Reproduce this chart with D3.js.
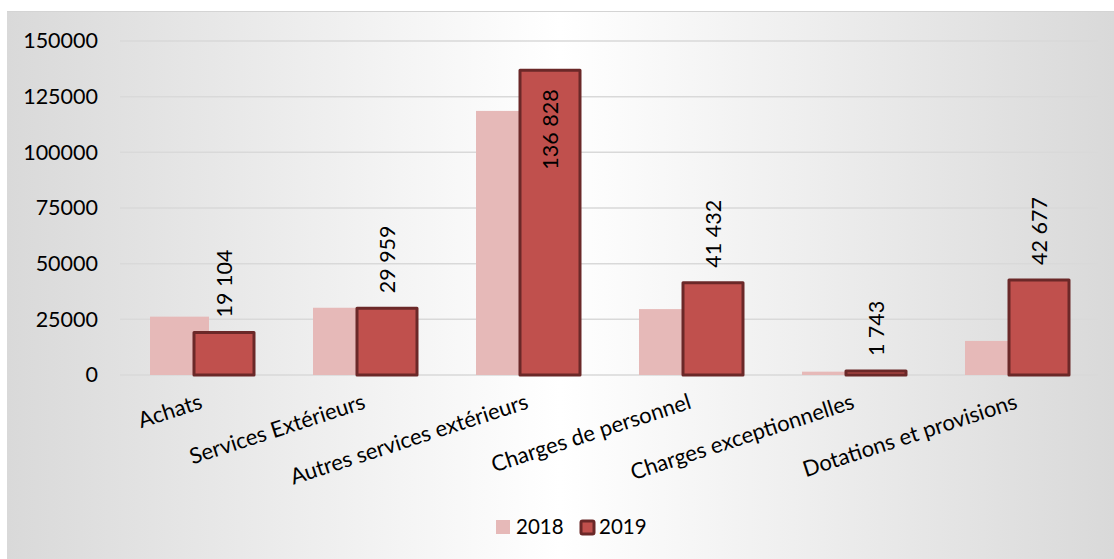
<!DOCTYPE html>
<html>
<head>
<meta charset="utf-8">
<script src="https://cdn.jsdelivr.net/npm/d3@7"></script>
<style>
  html, body { margin: 0; padding: 0; background: #ffffff; }
  svg { display: block; font-family: Lato, "Open Sans", sans-serif; }
</style>
</head>
<body>
<svg id="chart" width="1114" height="559"></svg>
<script>
const categories = ["Achats", "Services Extérieurs", "Autres services extérieurs", "Charges de personnel", "Charges exceptionnelles", "Dotations et provisions"];
const series = ["2018", "2019"];
const values2018 = [26200, 30200, 118600, 29600, 1500, 15300];
const values2019 = [19104, 29959, 136828, 41432, 1743, 42677];
const yTicks = [0, 25000, 50000, 75000, 100000, 125000, 150000];

const svg = d3.select("#chart");
const W = 1114, H = 559;

// background
const defs = svg.append("defs");
const grad = defs.append("linearGradient").attr("id", "bg").attr("x1", "0").attr("x2", "1").attr("y1", "0").attr("y2", "0");
grad.append("stop").attr("offset", "0%").attr("stop-color", "#d9d9d9");
grad.append("stop").attr("offset", "50%").attr("stop-color", "#ffffff");
grad.append("stop").attr("offset", "100%").attr("stop-color", "#d9d9d9");
svg.append("rect").attr("x", 7).attr("y", 11).attr("width", W - 7).attr("height", H - 11)
  .attr("fill", "url(#bg)");
svg.append("line").attr("x1", 7).attr("x2", W).attr("y1", 11.5).attr("y2", 11.5)
  .attr("stroke", "#d4d4d4").attr("stroke-width", 1);

const x = d3.scaleBand().domain(categories).range([120, 1098]);
const y = d3.scaleLinear().domain([0, 150000]).range([375, 41]);
const offset = d3.scaleOrdinal().domain(series).range([-51.5, -7.5]);
const barW = { "2018": 59, "2019": 60 };
const fills = { "2018": "#e6b9b8", "2019": "#c0504d" };
const dark = "#6b2828";

// gridlines
svg.append("g").selectAll("line").data(yTicks).join("line")
  .attr("x1", 120).attr("x2", 1098)
  .attr("y1", d => y(d)).attr("y2", d => y(d))
  .attr("stroke", "#d9d9d9").attr("stroke-width", 1.5);

// y axis labels
const yAxis = d3.axisLeft(y).tickValues(yTicks).tickSize(0).tickPadding(0).tickFormat(d3.format("d"));
const ya = svg.append("g").attr("transform", "translate(98,0)").call(yAxis);
ya.select(".domain").remove();
ya.selectAll("text").attr("font-size", 21.5).attr("fill", "#000").attr("font-family", "Lato, 'Open Sans', sans-serif");

const cx = c => x(c) + x.bandwidth() / 2;

// 2018 bars
svg.append("g").selectAll("rect").data(categories).join("rect")
  .attr("x", (c) => cx(c) + offset("2018"))
  .attr("y", (c, i) => y(values2018[i]))
  .attr("width", barW["2018"])
  .attr("height", (c, i) => y(0) - y(values2018[i]))
  .attr("fill", fills["2018"]);

// 2019 bars
svg.append("g").selectAll("rect").data(categories).join("rect")
  .attr("x", (c) => cx(c) + offset("2019"))
  .attr("y", (c, i) => y(values2019[i]))
  .attr("width", barW["2019"])
  .attr("height", (c, i) => y(0) - y(values2019[i]))
  .attr("fill", fills["2019"])
  .attr("stroke", dark).attr("stroke-width", 3).attr("stroke-linejoin", "round");

// value labels
const fr = d3.formatLocale({ decimal: ",", thousands: " ", grouping: [3], currency: ["", " €"] });
const fmt = fr.format(",d");
svg.append("g").selectAll("text").data(categories).join("text")
  .each(function (c, i) {
    const v = values2019[i];
    const bx = cx(c) + offset("2019") + barW["2019"] / 2;
    const top = y(v);
    const inside = top < 120;
    const ay = inside ? top + 19 : top - 15;
    d3.select(this)
      .attr("transform", `translate(${bx},${ay}) rotate(-90)`)
      .attr("text-anchor", inside ? "end" : "start")
      .attr("dy", "0.35em")
      .attr("font-size", 21.5)
      .attr("fill", "#000")
      .text(fmt(v));
  });

// category labels
svg.append("g").selectAll("text").data(categories).join("text")
  .attr("transform", c => `translate(${cx(c) + 2},${408}) rotate(-18)`)
  .attr("text-anchor", "end")
  .attr("font-size", 22)
  .attr("fill", "#000")
  .text(c => c);

// legend
const lg = svg.append("g");
lg.append("rect").attr("x", 496).attr("y", 520).attr("width", 14).attr("height", 14).attr("fill", fills["2018"]);
lg.append("text").attr("x", 516).attr("y", 534).attr("font-size", 20.5).attr("fill", "#000").text(series[0]);
lg.append("rect").attr("x", 581).attr("y", 521).attr("width", 13).attr("height", 13)
  .attr("fill", fills["2019"]).attr("stroke", dark).attr("stroke-width", 3).attr("rx", 1.5);
lg.append("text").attr("x", 599).attr("y", 534).attr("font-size", 20.5).attr("fill", "#000").text(series[1]);
</script>
</body>
</html>
